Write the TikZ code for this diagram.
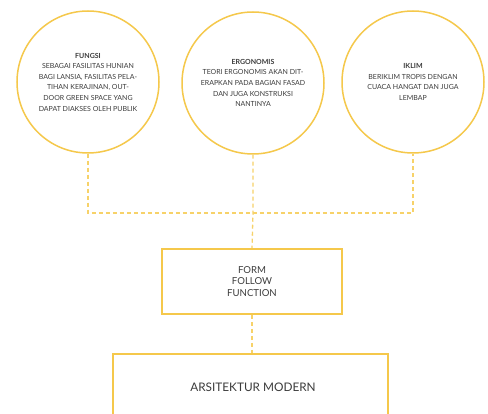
\documentclass[tikz,border=0pt]{standalone}
\usepackage{fontspec}
\setmainfont{Lato}
\definecolor{gold}{RGB}{245,200,75}
\definecolor{golddash}{RGB}{247,210,105}
\definecolor{txt}{RGB}{60,60,60}
\tikzset{
  topic/.style={circle, draw=gold, line width=1.5pt, minimum size=142pt, inner sep=0pt,
    align=center, text=txt, font=\fontsize{7}{10.6}\selectfont},
  frame/.style={draw=gold, line width=1.6pt, align=center, text=txt, inner sep=0pt},
  link/.style={draw=golddash, line width=1.3pt, dash pattern=on 4pt off 3pt}
}
\begin{document}
\begin{tikzpicture}[x=1pt,y=-1pt]
\useasboundingbox (0,0) rectangle (488,414);
\clip (0,0) rectangle (488,414);
\fill[white] (0,0) rectangle (488,414);
\node[topic] (c1) at (88,82) {\textbf{FUNGSI}\\SEBAGAI FASILITAS HUNIAN\\BAGI LANSIA, FASILITAS PELA-\\TIHAN KERAJINAN, OUT-\\DOOR GREEN SPACE YANG\\DAPAT DIAKSES OLEH PUBLIK};
\node[topic] (c2) at (253,83) {\textbf{ERGONOMIS}\\TEORI ERGONOMIS AKAN DIT-\\ERAPKAN PADA BAGIAN FASAD\\DAN JUGA KONSTRUKSI\\NANTINYA};
\node[topic] (c3) at (413,82) {\textbf{IKLIM}\\BERIKLIM TROPIS DENGAN\\CUACA HANGAT DAN JUGA\\LEMBAP};
\node[frame, minimum width=180pt, minimum height=65pt, font=\fontsize{9.6}{11.2}\selectfont] (ff) at (252,281.5) {FORM\\FOLLOW\\FUNCTION};
\node[frame, line width=2.6pt, minimum width=275pt, minimum height=90pt] (am) at (250.5,399) {};
\node[text=txt, font=\fontsize{11.8}{13}\selectfont] (amt) at (253,387) {ARSITEKTUR MODERN};
\coordinate (hub) at (253,213);
\draw[link] (c1.south) |- (hub) -| (c3.south);
\draw[link] (c2.south) -- (hub) -- (ff.north);
\draw[link] (ff.south) -- (ff.south |- am.north);
\end{tikzpicture}
\end{document}
